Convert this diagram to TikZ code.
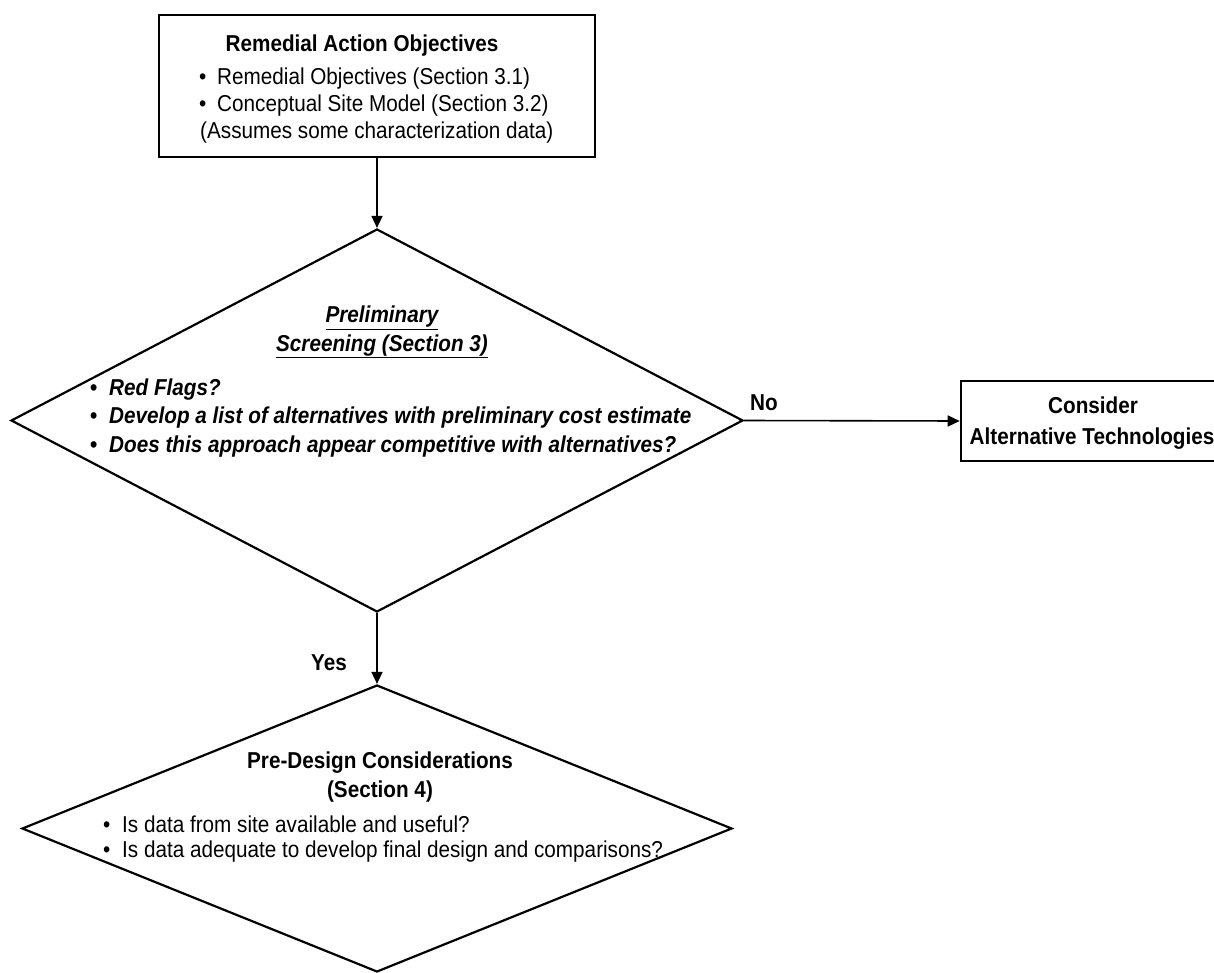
\documentclass[tikz,border=0pt]{standalone}
\usepackage{fontspec}
\setmainfont[FakeStretch=0.9]{Liberation Sans}
\usetikzlibrary{arrows.meta,shapes.geometric}
\newcommand{\bul}[1]{\makebox[#1][l]{\textup{•}}}
\begin{document}
\begin{tikzpicture}[x=1pt,y=-1pt,
  boxst/.style={draw,line width=2.6pt,inner sep=0,rectangle},
  diast/.style={draw,diamond,line width=2.2pt,inner sep=0},
  arr/.style={line width=1.6pt,-{Triangle[length=12pt,width=11pt]}},
  txt/.style={inner sep=0,font=\fontsize{23}{27}\selectfont},
  txtb/.style={inner sep=0,font=\fontsize{23}{27}\selectfont\bfseries},
  txtbi/.style={inner sep=0,font=\fontsize{23}{27}\selectfont\bfseries\itshape}]
\useasboundingbox (0,0) rectangle (1214,973);

% shapes
\node[boxst,minimum width=436pt,minimum height=142pt] (rao) at (377,86) {};
\node[diast,minimum width=732pt,minimum height=383pt] (ps) at (377,420.5) {};
\node[diast,minimum width=710pt,minimum height=287pt] (pd) at (377,828.5) {};
\node[boxst,minimum width=264pt,minimum height=80pt] (alt) at (1093,421) {};

% connectors
\draw[arr] (rao.south) -- (ps.north);
\draw[arr] (ps.south) -- (pd.north);
\draw[arr] (ps.east) -- (alt.west);

% labels
\node[txtb,anchor=base west] (no) at (750,410) {No};
\node[txtb,anchor=base west] (yes) at (311,670) {Yes};

% top box text
\node[txtb,anchor=base] (t1) at (362,52) {Remedial Action Objectives};
\node[txt,anchor=base west] (t2) at (199,85) {\bul{18pt}Remedial Objectives (Section 3.1)};
\node[txt,anchor=base west] (t3) at (199,112) {\bul{18pt}Conceptual Site Model (Section 3.2)};
\node[txt,anchor=base west] (t4) at (200,139) {(Assumes some characterization data)};

% preliminary screening text
\node[txtbi,anchor=base] (p1) at (382,323) {\underline{Preliminary}};
\node[txtbi,anchor=base] (p2) at (382,351) {\underline{Screening (Section 3)}};
\node[txtbi,anchor=base west] (p3) at (90,395) {\bul{19pt}Red Flags?};
\node[txtbi,anchor=base west] (p4) at (90,423) {\bul{19pt}Develop a list of alternatives with preliminary cost estimate};
\node[txtbi,anchor=base west] (p5) at (90,452) {\bul{19pt}Does this approach appear competitive with alternatives?};

% pre-design text
\node[txtb,anchor=base] (d1) at (380,768) {Pre-Design Considerations};
\node[txtb,anchor=base] (d2) at (380,797) {(Section 4)};
\node[txt,anchor=base west] (d3) at (103,832) {\bul{19pt}Is data from site available and useful?};
\node[txt,anchor=base west] (d4) at (103,857) {\bul{19pt}Is data adequate to develop final design and comparisons?};

% alternative box text
\node[txtb,anchor=base] (a1) at (1093,413) {Consider};
\node[txtb,anchor=base] (a2) at (1092,444) {Alternative Technologies};
\end{tikzpicture}
\end{document}
